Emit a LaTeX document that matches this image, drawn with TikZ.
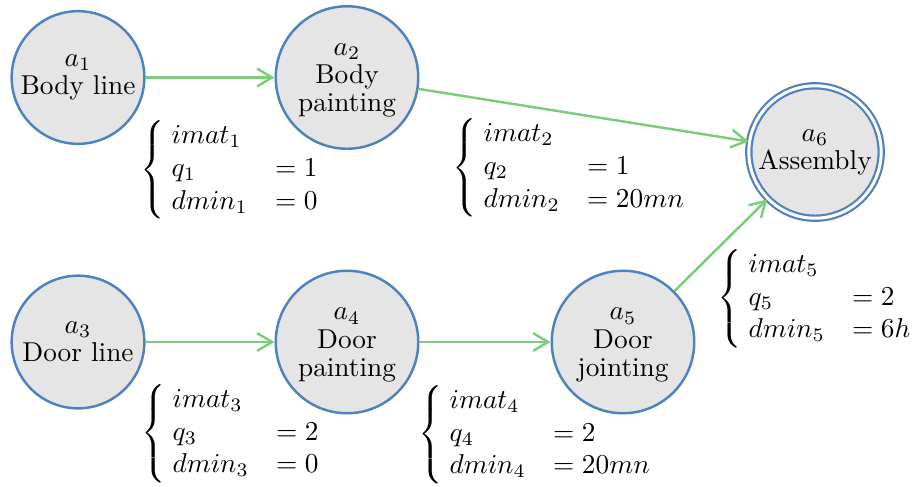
\documentclass[tikz,border=0pt]{standalone}
\usepackage{amsmath}
\usetikzlibrary{arrows.meta}
\definecolor{nodeblue}{RGB}{79,129,189}
\definecolor{arrgreen}{RGB}{124,204,124}
\newcommand{\toprule}{\rule{0pt}{6.5pt}}
\begin{document}
\begin{tikzpicture}[x=0.3663pt,y=-0.3663pt,
  act/.style={circle,draw=nodeblue,fill=gray!20,line width=0.9pt,align=center,inner sep=0pt,font=\fontsize{10}{10.3}\selectfont},
  smallact/.style={act,minimum size=48.6pt},
  bigact/.style={act,minimum size=52.2pt},
  finalact/.style={act,double=white,double distance=1.1pt,line width=0.8pt,minimum size=48.5pt},
  flow/.style={draw=arrgreen,line width=0.9pt,-{Straight Barb[length=5.5pt,width=6.5pt]}},
  cond/.style={anchor=west,inner sep=0pt}]
\useasboundingbox (0,0) rectangle (915,486);
\node[smallact] (a1) at (78,77.5) {$a_1$\\Body line};
\node[bigact] (a2) at (347,77.5) {\toprule$a_2$\\Body\\painting};
\node[finalact] (a6) at (815,152) {$a_6$\\Assembly};
\node[smallact] (a3) at (78,342) {$a_3$\\Door line};
\node[bigact] (a4) at (347,342) {\toprule$a_4$\\Door\\painting};
\node[bigact] (a5) at (623,342) {\toprule$a_5$\\Door\\jointing};
\draw[flow] (a1) -- (a2);
\draw[flow] (a2) -- (a6);
\draw[flow] (a3) -- (a4);
\draw[flow] (a4) -- (a5);
\draw[flow] (a5) -- (a6);
\node[cond] (c1) at (140,170) {$\left\{\begin{array}{@{\hspace{2.5pt}}l@{\quad}l@{}} imat_1 & \\ q_1 & =1\\ dmin_1 & =0\end{array}\right.$};
\node[cond] (c2) at (452,168) {$\left\{\begin{array}{@{\hspace{2.5pt}}l@{\quad}l@{}} imat_2 & \\ q_2 & =1\\ dmin_2 & =20mn\end{array}\right.$};
\node[cond] (c3) at (141,433.5) {$\left\{\begin{array}{@{\hspace{2.5pt}}l@{\quad}l@{}} imat_3 & \\ q_3 & =2\\ dmin_3 & =0\end{array}\right.$};
\node[cond] (c4) at (418,434.5) {$\left\{\begin{array}{@{\hspace{2.5pt}}l@{\quad}l@{}} imat_4 & \\ q_4 & =2\\ dmin_4 & =20mn\end{array}\right.$};
\node[cond] (c5) at (717,298.5) {$\left\{\begin{array}{@{\hspace{2.5pt}}l@{\quad}l@{}} imat_5 & \\ q_5 & =2\\ dmin_5 & =6h\end{array}\right.$};
\end{tikzpicture}
\end{document}
